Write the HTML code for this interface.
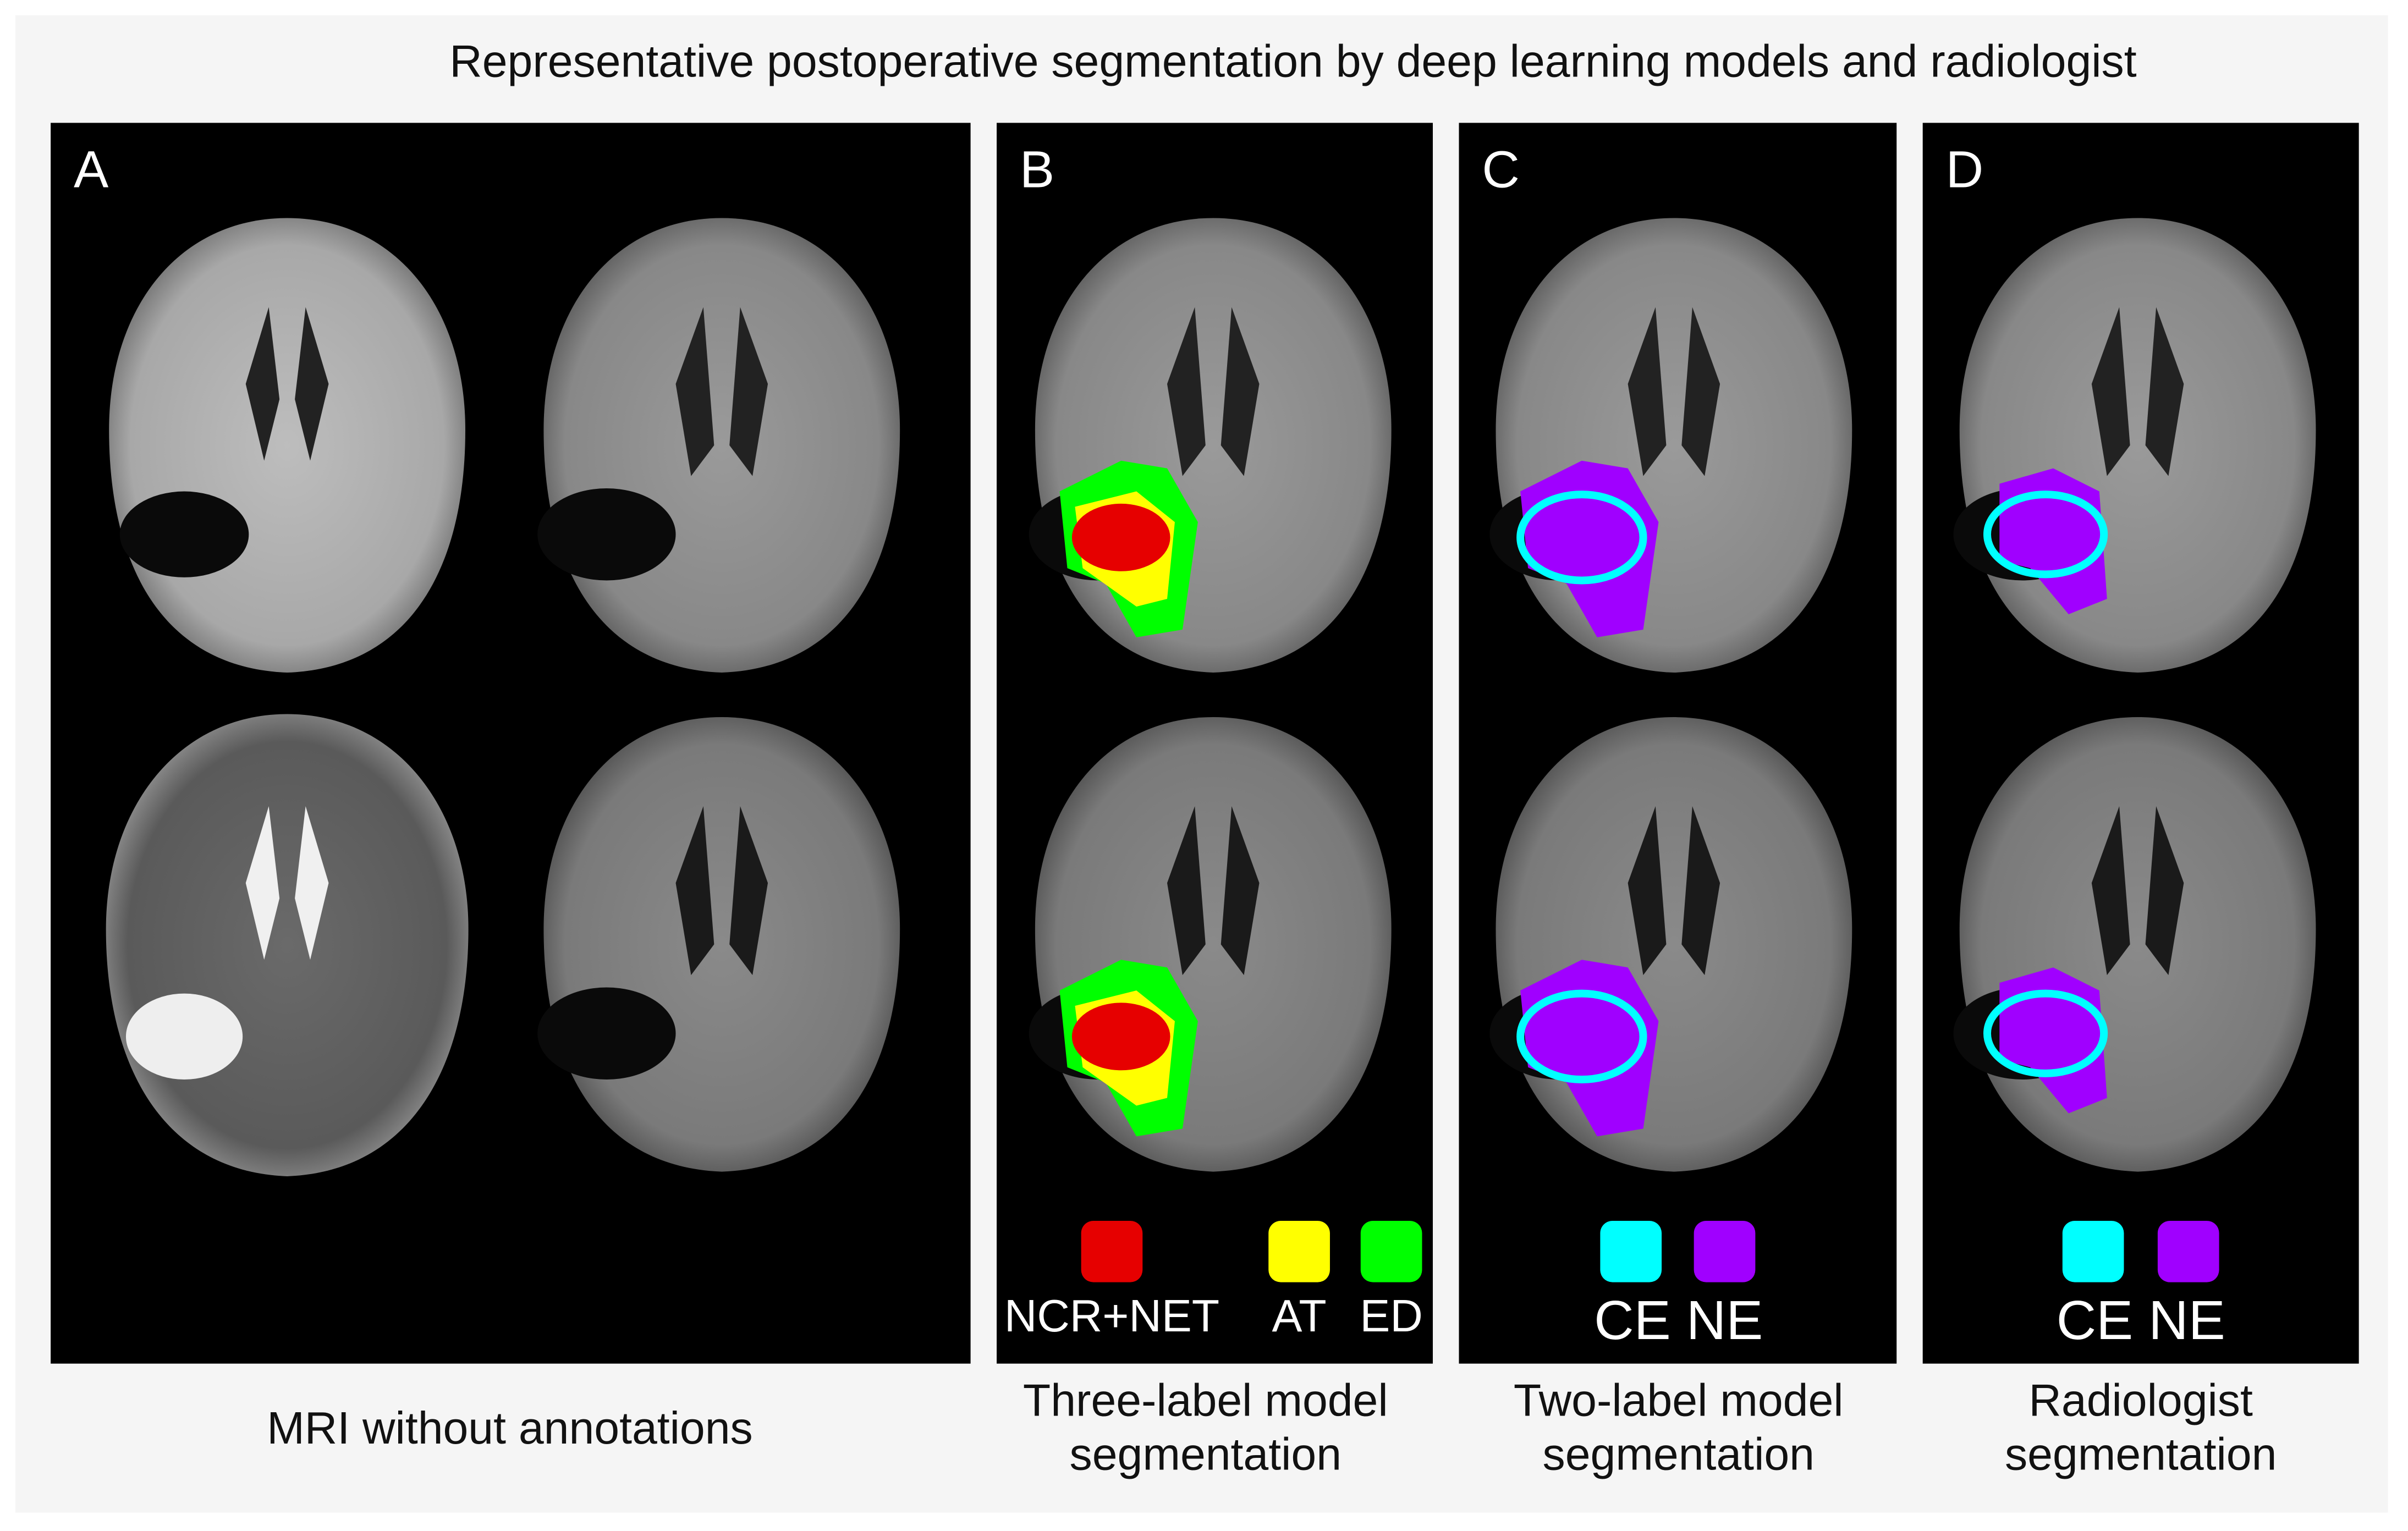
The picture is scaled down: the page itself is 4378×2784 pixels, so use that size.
<!DOCTYPE html>
<html><head><meta charset="utf-8"><style>
html,body{margin:0;padding:0;background:#fff;}
svg{display:block;font-family:"Liberation Sans",Arial,sans-serif;}
</style></head><body>
<svg width="4378" height="2784" viewBox="0 0 1568 997" preserveAspectRatio="none" xmlns="http://www.w3.org/2000/svg">
<defs>
<radialGradient id="t1" cx="50%" cy="50%" r="55%"><stop offset="0" stop-color="#bdbdbd"/><stop offset="0.8" stop-color="#a8a8a8"/><stop offset="1" stop-color="#6a6a6a"/></radialGradient>
<radialGradient id="t1c" cx="50%" cy="50%" r="55%"><stop offset="0" stop-color="#9a9a9a"/><stop offset="0.8" stop-color="#888"/><stop offset="1" stop-color="#555"/></radialGradient>
<radialGradient id="fl" cx="50%" cy="50%" r="55%"><stop offset="0" stop-color="#8a8a8a"/><stop offset="0.8" stop-color="#7a7a7a"/><stop offset="1" stop-color="#4a4a4a"/></radialGradient>
<radialGradient id="t2" cx="50%" cy="50%" r="55%"><stop offset="0" stop-color="#6a6a6a"/><stop offset="0.8" stop-color="#5a5a5a"/><stop offset="1" stop-color="#999"/></radialGradient>
<g id="brainc"><path d="M0,-148 C70,-148 116,-90 116,-10 C116,80 80,145 0,148 C-80,145 -116,80 -116,-10 C-116,-90 -70,-148 0,-148 Z" fill="url(#t1c)"/><path d="M-12,-90 L-30,-40 L-20,20 L-5,0 Z M12,-90 L30,-40 L20,20 L5,0 Z" fill="#222"/><ellipse cx="-75" cy="58" rx="45" ry="30" fill="#0a0a0a"/></g>
<g id="brainf"><path d="M0,-148 C70,-148 116,-90 116,-10 C116,80 80,145 0,148 C-80,145 -116,80 -116,-10 C-116,-90 -70,-148 0,-148 Z" fill="url(#fl)"/><path d="M-12,-90 L-30,-40 L-20,20 L-5,0 Z M12,-90 L30,-40 L20,20 L5,0 Z" fill="#1a1a1a"/><ellipse cx="-75" cy="58" rx="45" ry="30" fill="#0a0a0a"/></g>
<g id="seg3"><path d="M-100,30 L-60,10 L-30,15 L-10,50 L-20,120 L-50,125 L-70,90 L-95,80 Z" fill="#00ff00"/><path d="M-90,40 L-50,30 L-25,50 L-30,100 L-50,105 L-85,80 Z" fill="#ffff00"/><ellipse cx="-60" cy="60" rx="32" ry="22" fill="#e60000"/></g>
<g id="seg2"><path d="M-100,30 L-60,10 L-30,15 L-10,50 L-20,120 L-50,125 L-70,90 L-95,80 Z" fill="#a000ff"/><ellipse cx="-60" cy="60" rx="40" ry="28" fill="none" stroke="#00ffff" stroke-width="5"/></g>
<g id="segd"><path d="M-90,25 L-55,15 L-25,30 L-20,100 L-45,110 L-70,80 L-90,75 Z" fill="#a000ff"/><ellipse cx="-60" cy="58" rx="38" ry="26" fill="none" stroke="#00ffff" stroke-width="5"/></g>
</defs>
<rect x="10" y="10" width="1545" height="975" fill="#f5f5f5"/>
<text x="842" y="50" font-size="29.5" text-anchor="middle" fill="#111">Representative postoperative segmentation by deep learning models and radiologist</text>

<g>
<rect x="33" y="80" width="599" height="808" fill="#000"/>
<text x="48" y="122" font-size="34" fill="#fff">A</text>
<path d="M187,142 C257,142 303,200 303,280 C303,370 267,435 187,438 C107,435 71,370 71,280 C71,200 117,142 187,142 Z" fill="url(#t1)"/>
<path d="M175,200 L160,250 L172,300 L182,260 Z M199,200 L214,250 L202,300 L192,260 Z" fill="#222"/>
<ellipse cx="120" cy="348" rx="42" ry="28" fill="#0a0a0a"/>
<use href="#brainc" x="470" y="290"/>
<path d="M187,465 C257,465 305,525 305,605 C305,695 267,763 187,766 C107,763 69,695 69,605 C69,525 117,465 187,465 Z" fill="url(#t2)"/>
<path d="M175,525 L160,575 L172,625 L182,585 Z M199,525 L214,575 L202,625 L192,585 Z" fill="#f0f0f0"/>
<ellipse cx="120" cy="675" rx="38" ry="28" fill="#eee"/>
<use href="#brainf" x="470" y="615"/>
</g>
<text x="332" y="940" font-size="29.5" text-anchor="middle" fill="#111">MRI without annotations</text>

<g>
<rect x="649" y="80" width="284" height="808" fill="#000"/>
<text x="664" y="122" font-size="34" fill="#fff">B</text>
<use href="#brainc" x="790" y="290"/><use href="#seg3" x="790" y="290"/>
<use href="#brainf" x="790" y="615"/><use href="#seg3" x="790" y="615"/>
<rect x="704" y="795" width="40" height="40" rx="8" fill="#e60000"/>
<rect x="826" y="795" width="40" height="40" rx="8" fill="#ffff00"/>
<rect x="886" y="795" width="40" height="40" rx="8" fill="#00ff00"/>
<text x="724" y="867" font-size="29.5" text-anchor="middle" fill="#fff">NCR+NET</text>
<text x="846" y="867" font-size="29.5" text-anchor="middle" fill="#fff">AT</text>
<text x="906" y="867" font-size="29.5" text-anchor="middle" fill="#fff">ED</text>
</g>
<text x="785" y="922" font-size="29.5" text-anchor="middle" fill="#111">Three-label model</text>
<text x="785" y="957" font-size="29.5" text-anchor="middle" fill="#111">segmentation</text>

<g>
<rect x="950" y="80" width="285" height="808" fill="#000"/>
<text x="965" y="122" font-size="34" fill="#fff">C</text>
<use href="#brainc" x="1090" y="290"/><use href="#seg2" x="1090" y="290"/>
<use href="#brainf" x="1090" y="615"/><use href="#seg2" x="1090" y="615"/>
<rect x="1042" y="795" width="40" height="40" rx="8" fill="#00ffff"/>
<rect x="1103" y="795" width="40" height="40" rx="8" fill="#a000ff"/>
<text x="1093" y="872" font-size="36" text-anchor="middle" fill="#fff">CE NE</text>
</g>
<text x="1093" y="922" font-size="29.5" text-anchor="middle" fill="#111">Two-label model</text>
<text x="1093" y="957" font-size="29.5" text-anchor="middle" fill="#111">segmentation</text>

<g>
<rect x="1252" y="80" width="284" height="808" fill="#000"/>
<text x="1267" y="122" font-size="34" fill="#fff">D</text>
<use href="#brainc" x="1392" y="290"/><use href="#segd" x="1392" y="290"/>
<use href="#brainf" x="1392" y="615"/><use href="#segd" x="1392" y="615"/>
<rect x="1343" y="795" width="40" height="40" rx="8" fill="#00ffff"/>
<rect x="1405" y="795" width="40" height="40" rx="8" fill="#a000ff"/>
<text x="1394" y="872" font-size="36" text-anchor="middle" fill="#fff">CE NE</text>
</g>
<text x="1394" y="922" font-size="29.5" text-anchor="middle" fill="#111">Radiologist</text>
<text x="1394" y="957" font-size="29.5" text-anchor="middle" fill="#111">segmentation</text>
</svg>
</body></html>
